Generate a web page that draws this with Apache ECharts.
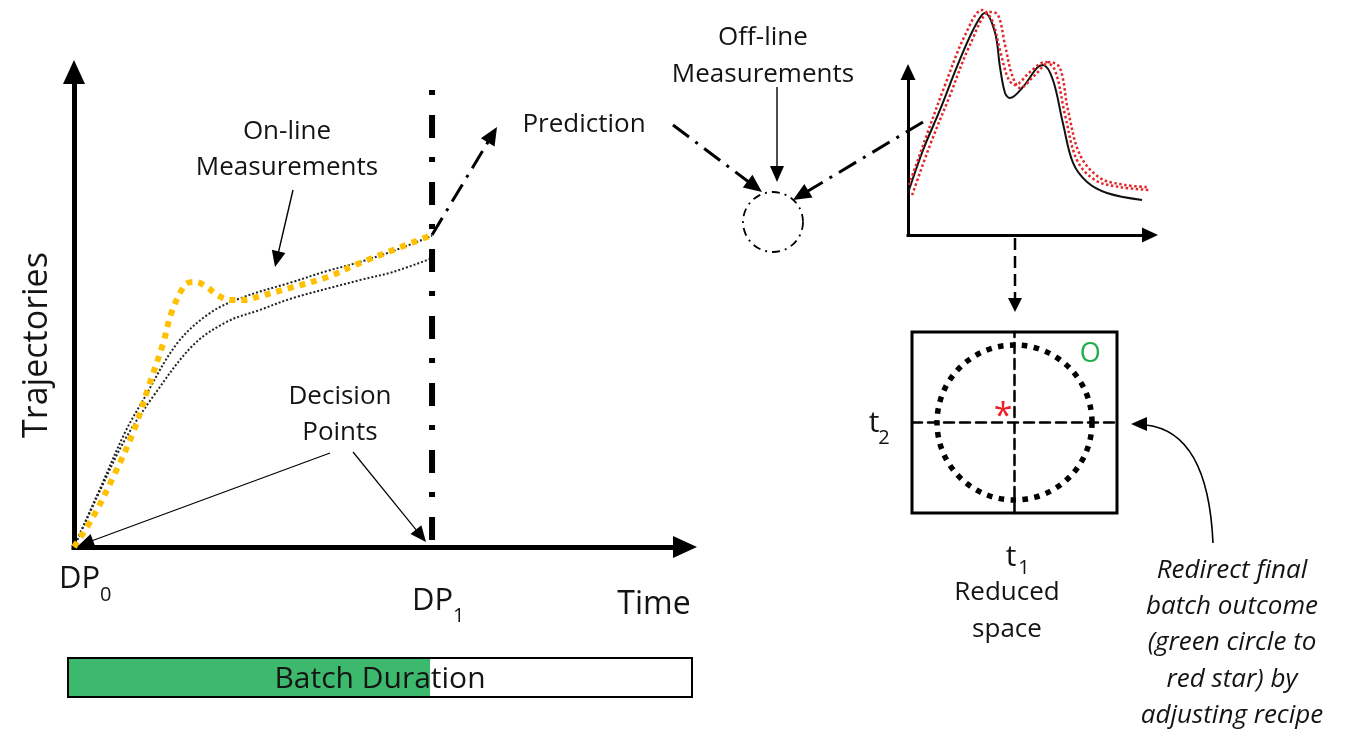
<!DOCTYPE html>
<html><head><meta charset="utf-8">
<script src="https://cdn.jsdelivr.net/npm/echarts/dist/echarts.min.js"></script>
<style>html,body{margin:0;padding:0;background:#fff}#c{width:1346px;height:734px}</style>
</head><body><div id="c"></div>
<script>
// ---- Left panel: on-line trajectories (time 0-100, response 0-100) ----
const decisionPoint1 = 58.6;
const dp1LineY = [1.5, 100];
const yellowX = [0, 3.1, 6.4, 9.7, 12.4, 14.6, 16.0, 18.2, 19.8, 21.8, 23.4, 25.5, 28.0, 30.4, 35.8, 41.4, 46.8, 52.2, 58.6];
const yellowY = [0, 6.3, 14.7, 24.2, 34.5, 42.9, 49.5, 55.2, 55.8, 54.7, 53.1, 52.0, 52.0, 52.8, 54.7, 56.8, 59.8, 62.5, 65.7];
const upperX = [0, 4.3, 8.3, 11.3, 16.9, 22.3, 27.7, 35.8, 41.4, 46.8, 52.2, 58.6];
const upperY = [0, 12.4, 24.0, 30.9, 42.9, 49.3, 52.6, 55.8, 58.1, 60.0, 62.3, 65.5];
const lowerX = [0, 4.3, 8.3, 12.9, 19.5, 25.0, 30.4, 35.8, 46.8, 52.2, 58.6];
const lowerY = [0, 12.0, 22.5, 31.6, 42.5, 47.4, 49.9, 52.4, 56.2, 57.9, 60.8];

// ---- Top right: off-line spectrum ----
const specX = [0, 6.2, 13.2, 20.2, 26.9, 31.8, 36.0, 38.0, 40.1, 42.1, 47.5, 53.3, 55.8, 59.9, 64.0, 68.2, 74.0, 82.2, 96.7];
const specY = [25.8, 52.1, 76.7, 103.1, 125.8, 136.2, 123.9, 103.1, 87.1, 84.0, 90.8, 102.5, 104.3, 95.1, 68.7, 44.2, 32.5, 25.8, 21.5];
const refAX = [0.4, 7.0, 15.3, 23.6, 30.6, 34.7, 38.0, 41.3, 44.2, 50.4, 56.6, 60.7, 64.9, 69.8, 77.3, 87.6, 100];
const refAY = [30.7, 58.3, 92.0, 122.7, 138.0, 131.9, 113.5, 96.3, 92.0, 100.0, 106.1, 101.2, 73.6, 46.0, 33.7, 29.4, 27.6];
const refBX = [1.7, 9.1, 17.4, 25.6, 33.9, 37.2, 40.1, 43.0, 46.3, 52.5, 58.7, 62.8, 66.1, 71.1, 79.3, 89.7, 99.2];
const refBY = [24.5, 55.2, 85.9, 116.6, 136.8, 135.0, 116.6, 98.2, 90.2, 98.2, 106.1, 102.5, 76.7, 49.1, 35.0, 30.7, 29.4];

// ---- Reduced space (t1, t2) ----
const limitCenter = [0, 0];
const targetPoint = [-0.11, 0.14];   // red star
const currentPoint = [0.74, 0.75];   // green circle

// ---- Batch duration ----
const batchTotal = 100;
const batchElapsed = 58;

const zip = (a, b) => a.map((v, i) => [v, b[i]]);
const FONT = '"Open Sans", "DejaVu Sans", sans-serif';
const INK = '#141414';

function arrow(x1, y1, x2, y2, o) {
  o = o || {};
  const L = o.L || 15, W = o.W || 6, w = o.w || 1.5;
  const dx = x2 - x1, dy = y2 - y1, d = Math.hypot(dx, dy), ux = dx / d, uy = dy / d;
  const bx = x2 - ux * L, by = y2 - uy * L;
  const ls = { stroke: '#000', lineWidth: w, fill: 'none' };
  if (o.dash) ls.lineDash = o.dash;
  return [
    { type: 'line', z: 10, shape: { x1: x1, y1: y1, x2: bx + ux, y2: by + uy }, style: ls },
    { type: 'polygon', z: 10, shape: { points: [[x2, y2], [bx - uy * W, by + ux * W], [bx + uy * W, by - ux * W]] }, style: { fill: '#000' } }
  ];
}
function txt(x, y, s, size, extra) {
  return Object.assign({ type: 'text', x: x, y: y, z: 20,
    style: Object.assign({ text: s, fontSize: size, fontFamily: FONT, fill: INK, align: 'center', verticalAlign: 'middle' }, extra || {}) });
}

const graphics = [].concat(
  arrow(293, 190, 275, 267, { L: 16, W: 7, w: 1.4 }),
  arrow(330, 453, 78, 546, { L: 16, W: 7, w: 1.2 }),
  arrow(353, 452, 426, 542, { L: 16, W: 7, w: 1.2 }),
  arrow(432, 235, 497, 127, { L: 18, W: 8, w: 3, dash: [20, 8, 3, 8] }),
  arrow(673, 125, 762, 192, { L: 18, W: 8, w: 3, dash: [20, 8, 3, 8] }),
  arrow(923, 122, 793, 200, { L: 18, W: 8, w: 3, dash: [20, 8, 3, 8] }),
  arrow(777, 87, 777, 182, { L: 16, W: 7, w: 1.4 }),
  arrow(1015, 238, 1015, 312, { L: 14, W: 7, w: 2.5, dash: [12, 6] }),
  [
    { type: 'bezierCurve', z: 10, shape: { x1: 1213, y1: 543, cpx1: 1208, cpy1: 432, x2: 1146, y2: 425 },
      style: { stroke: '#000', lineWidth: 1.6, fill: 'none' } },
    { type: 'polygon', z: 10, shape: { points: [[1131, 424], [1147, 417], [1147, 431]] }, style: { fill: '#000' } },
    { type: 'circle', z: 10, shape: { cx: 773, cy: 222, r: 30 }, style: { fill: 'none', stroke: '#000', lineWidth: 1.8, lineDash: [8, 5, 2, 5] } },
    txt(287, 132, 'On-line', 26), txt(287, 168, 'Measurements', 26),
    txt(340, 397, 'Decision', 26), txt(340, 433, 'Points', 26),
    txt(584, 125, 'Prediction', 26),
    txt(763, 38, 'Off-line', 26), txt(763, 75, 'Measurements', 26),
    Object.assign(txt(37, 345, 'Trajectories', 34), { rotation: Math.PI / 2 }),
    txt(59, 579, 'DP', 31, { align: 'left' }), txt(100, 595, '0', 20, { align: 'left' }),
    txt(412, 601, 'DP', 31, { align: 'left' }), txt(453, 616, '1', 20, { align: 'left' }),
    txt(654, 605, 'Time', 32),
    txt(380, 679, 'Batch Duration', 30),
    txt(874, 423, 't', 30), txt(884, 438, '2', 20),
    txt(1011, 557, 't', 30), txt(1024, 568, '1', 20),
    txt(1007, 593, 'Reduced', 26), txt(1007, 630, 'space', 26),
    txt(1232, 571, 'Redirect final', 26, { fontStyle: 'italic' }),
    txt(1232, 607, 'batch outcome', 26, { fontStyle: 'italic' }),
    txt(1232, 643, '(green circle to', 26, { fontStyle: 'italic' }),
    txt(1232, 680, 'red star) by', 26, { fontStyle: 'italic' }),
    txt(1232, 716, 'adjusting recipe', 26, { fontStyle: 'italic' })
  ]
);

const hidden = { axisTick: { show: false }, axisLabel: { show: false }, splitLine: { show: false } };
const arrowAxis = (w, s) => Object.assign({ axisLine: { show: true, symbol: ['none', 'triangle'], symbolSize: s, lineStyle: { color: '#000', width: w, cap: 'square' } } }, hidden);

const option = {
  animation: false,
  backgroundColor: '#fff',
  grid: [
    { left: 74, top: 72, width: 611, height: 475 },
    { left: 908, top: 72, width: 242, height: 163 },
    { left: 912, top: 332, width: 205, height: 181, show: true, borderColor: '#000', borderWidth: 3, backgroundColor: 'rgba(0,0,0,0)' },
    { left: 67, top: 657, width: 626, height: 41 }
  ],
  xAxis: [
    Object.assign({ gridIndex: 0, type: 'value', min: 0, max: 100 }, arrowAxis(5, [22, 24])),
    Object.assign({ gridIndex: 1, type: 'value', min: 0, max: 100 }, arrowAxis(3, [15, 16])),
    Object.assign({ gridIndex: 2, type: 'value', min: -1, max: 1, axisLine: { show: true, onZero: true, lineStyle: { color: '#000', width: 2.5, type: [10, 6] } } }, hidden),
    { gridIndex: 3, type: 'value', min: 0, max: batchTotal, show: false }
  ],
  yAxis: [
    Object.assign({ gridIndex: 0, type: 'value', min: 0, max: 100 }, arrowAxis(5, [22, 24])),
    Object.assign({ gridIndex: 1, type: 'value', min: 0, max: 100 }, arrowAxis(3, [15, 16])),
    Object.assign({ gridIndex: 2, type: 'value', min: -1, max: 1, axisLine: { show: true, onZero: true, lineStyle: { color: '#000', width: 2.5, type: [10, 6] } } }, hidden),
    { gridIndex: 3, type: 'category', data: ['Batch'], show: false }
  ],
  series: [
    { name: 'Upper reference', type: 'line', xAxisIndex: 0, yAxisIndex: 0, data: zip(upperX, upperY), smooth: 0.35, symbol: 'none', clip: false,
      lineStyle: { color: '#222', width: 2, type: [2, 2] }, z: 2 },
    { name: 'Lower reference', type: 'line', xAxisIndex: 0, yAxisIndex: 0, data: zip(lowerX, lowerY), smooth: 0.35, symbol: 'none', clip: false,
      lineStyle: { color: '#222', width: 2, type: [2, 2] }, z: 2 },
    { name: 'Current batch', type: 'line', xAxisIndex: 0, yAxisIndex: 0, data: zip(yellowX, yellowY), smooth: 0.35, symbol: 'none', clip: false,
      lineStyle: { color: '#ffc000', width: 6, type: [6, 6] }, z: 3 },
    { name: 'DP1', type: 'line', xAxisIndex: 0, yAxisIndex: 0, data: dp1LineY.map(v => [decisionPoint1, v]), symbol: 'none', clip: false,
      lineStyle: { color: '#000', width: 6, type: [23, 20, 5, 19] }, z: 4 },
    { name: 'Spectrum', type: 'line', xAxisIndex: 1, yAxisIndex: 1, data: zip(specX, specY), smooth: 0.35, symbol: 'none', clip: false,
      lineStyle: { color: '#111', width: 2 }, z: 2 },
    { name: 'Ref A', type: 'line', xAxisIndex: 1, yAxisIndex: 1, data: zip(refAX, refAY), smooth: 0.35, symbol: 'none', clip: false,
      lineStyle: { color: '#e3262a', width: 2.5, type: [2.5, 2.5] }, z: 3 },
    { name: 'Ref B', type: 'line', xAxisIndex: 1, yAxisIndex: 1, data: zip(refBX, refBY), smooth: 0.35, symbol: 'none', clip: false,
      lineStyle: { color: '#e3262a', width: 2.5, type: [2.5, 2.5] }, z: 3 },
    { name: 'Limit', type: 'scatter', xAxisIndex: 2, yAxisIndex: 2, data: [limitCenter], symbol: 'circle', symbolSize: 155,
      itemStyle: { opacity: 1, color: 'rgba(0,0,0,0)', borderColor: '#000', borderWidth: 5.5, borderType: [5.5, 6.5] }, z: 3 },
    { name: 'Target', type: 'scatter', xAxisIndex: 2, yAxisIndex: 2, data: [targetPoint], symbolSize: 1, itemStyle: { opacity: 1, color: 'rgba(0,0,0,0)' },
      label: { show: true, position: 'inside', formatter: '*', color: '#ee1c25', fontSize: 34, fontFamily: FONT, offset: [0, 7] }, z: 5 },
    { name: 'Current', type: 'scatter', xAxisIndex: 2, yAxisIndex: 2, data: [currentPoint], symbolSize: 1, itemStyle: { opacity: 1, color: 'rgba(0,0,0,0)' },
      label: { show: true, position: 'inside', formatter: 'O', color: '#1fae4b', fontSize: 27, fontFamily: FONT }, z: 5 },
    { name: 'Elapsed', type: 'bar', xAxisIndex: 3, yAxisIndex: 3, data: [batchElapsed], barWidth: 41, barGap: '-100%',
      itemStyle: { color: '#3cb96c' }, z: 2 },
    { name: 'Total', type: 'bar', xAxisIndex: 3, yAxisIndex: 3, data: [batchTotal], barWidth: 41, barGap: '-100%',
      itemStyle: { color: 'rgba(0,0,0,0)', borderColor: '#000', borderWidth: 2 }, z: 3 }
  ],
  graphic: graphics
};
const chart = echarts.init(document.getElementById('c'), null, { renderer: 'canvas' });
chart.setOption(option);
</script></body></html>
